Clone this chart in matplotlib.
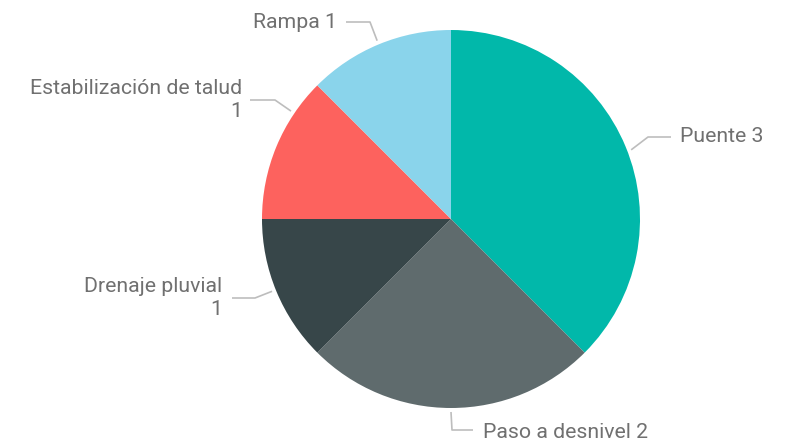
import numpy as np
import matplotlib
matplotlib.use("Agg")
import matplotlib.pyplot as plt

categories = ["Puente", "Paso a desnivel", "Drenaje pluvial", "Estabilización de talud", "Rampa"]
counts = [3, 2, 1, 1, 1]
colors = ["#01B8AA", "#5F6B6D", "#374649", "#FD625E", "#8AD4EB"]
label_texts = ["Puente 3", "Paso a desnivel 2", "Drenaje pluvial\n1", "Estabilización de talud\n1", "Rampa 1"]

W, H = 793, 442
CX, CY, R = 451, 219, 189
# leader layout per label: anchor angle (deg), elbow (px), end of line (px), text pos (px), ha
leaders = [
    (21.0, (648, 137), (671, 137), (680, 137), "left"),
    (-90.0, (452, 430), (473, 430), (483, 432), "left"),
    (202.0, (255, 298), (232, 298), (222, 298), "right"),
    (146.0, (275, 100), (250, 100), (242, 100), "right"),
    (112.5, (370, 22), (346, 22), (337, 22), "right"),
]

def Y(y):
    return H - y

fig = plt.figure(figsize=(W / 100, H / 100), dpi=100)
ax = fig.add_axes([0, 0, 1, 1])
ax.set_xlim(0, W); ax.set_ylim(0, H); ax.set_aspect("equal"); ax.axis("off")

ax.pie(counts, colors=colors, startangle=90, counterclock=False,
       center=(CX, Y(CY)), radius=R, wedgeprops=dict(linewidth=0))
ax.set_xlim(0, W); ax.set_ylim(0, H)

for txt, (ang, elbow, end, tpos, ha) in zip(label_texts, leaders):
    a = np.deg2rad(ang)
    sx, sy = CX + (R + 4) * np.cos(a), Y(CY) + (R + 4) * np.sin(a)
    ax.plot([sx, elbow[0], end[0]], [sy, Y(elbow[1]), Y(end[1])],
            color="#BDBDBD", lw=1.2, solid_capstyle="butt")
    ax.text(tpos[0], Y(tpos[1]), txt, ha=ha, va="center", multialignment=ha,
            fontsize=15.3, color="#707070", family="Roboto", linespacing=1.22)

fig.savefig("out.png", dpi=100)
